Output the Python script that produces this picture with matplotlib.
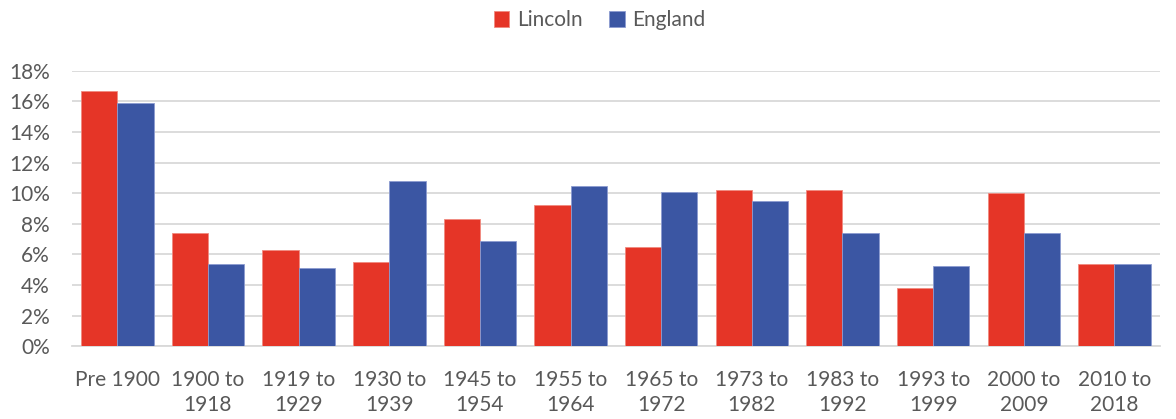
import numpy as np
import matplotlib.pyplot as plt
from matplotlib.ticker import FuncFormatter

# data (percent of dwellings by build period)
periods = ['Pre 1900', '1900 to\n1918', '1919 to\n1929', '1930 to\n1939', '1945 to\n1954',
           '1955 to\n1964', '1965 to\n1972', '1973 to\n1982', '1983 to\n1992', '1993 to\n1999',
           '2000 to\n2009', '2010 to\n2018']
lincoln = [16.7, 7.4, 6.3, 5.5, 8.3, 9.2, 6.5, 10.2, 10.2, 3.8, 10.0, 5.4]
england = [15.9, 5.4, 5.1, 10.8, 6.9, 10.5, 10.1, 9.5, 7.4, 5.25, 7.4, 5.35]

plt.rcParams['font.family'] = ['Lato', 'DejaVu Sans']
text_col = '#595959'
fs = 15

fig = plt.figure(figsize=(11.76, 4.19), dpi=100)
ax = fig.add_axes([0.0612, 0.174, 0.925, 0.657])

x = np.arange(len(periods))
w = 0.4
ax.bar(x - w / 2, lincoln, w, color='#E53527', edgecolor='#F08A80', linewidth=0.6,
       label='Lincoln', zorder=3)
ax.bar(x + w / 2, england, w, color='#3B56A3', edgecolor='#8C9BD0', linewidth=0.6,
       label='England', zorder=3)

ax.set_xlim(-0.5, len(periods) - 0.5)
ax.set_ylim(0, 18)
ax.set_yticks(np.arange(0, 19, 2))
ax.yaxis.set_major_formatter(FuncFormatter(lambda v, _: f'{v:.0f}%'))
ax.grid(axis='y', color='#D9D9D9', linewidth=1.3, zorder=0)
ax.set_axisbelow(True)

for s in ['top', 'right', 'left']:
    ax.spines[s].set_visible(False)
ax.spines['bottom'].set_color('#D9D9D9')
ax.spines['bottom'].set_linewidth(1.3)

ax.set_xticks(x)
ax.set_xticklabels(periods, va='top', linespacing=1.35)
ax.tick_params(axis='x', length=0, pad=17, labelsize=fs, labelcolor=text_col)
ax.tick_params(axis='y', length=0, pad=16, labelsize=fs, labelcolor=text_col)

fig.legend(loc='upper center', bbox_to_anchor=(0.51, 1.02), ncol=2, frameon=False,
           fontsize=fs, labelcolor=text_col, handlelength=0.75, handleheight=0.75,
           handletextpad=0.35, columnspacing=1.3)

fig.savefig('out.png', dpi=100)
